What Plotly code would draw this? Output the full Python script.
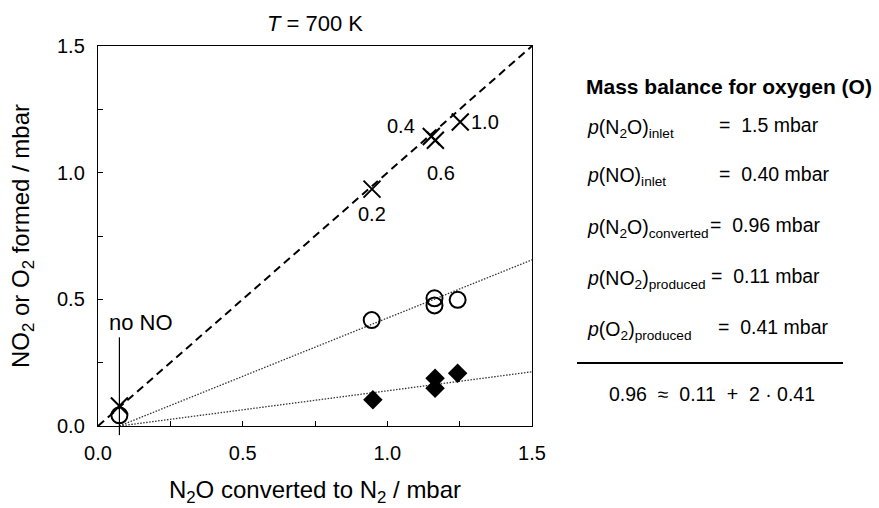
import plotly.graph_objects as go

# --- data -------------------------------------------------------------
# N2O converted to N2 (mbar) vs. product formed (mbar), T = 700 K
sum_x = [0.074, 0.947, 1.152, 1.166, 1.252]          # NO2 + 2*O2 (crosses)
sum_y = [0.079, 0.935, 1.143, 1.128, 1.200]
sum_labels = ["", "0.2", "0.4", "0.6", "1.0"]        # p(NO)inlet / mbar

o2_x = [0.074, 0.946, 1.163, 1.163, 1.243]           # O2 formed (open circles)
o2_y = [0.042, 0.418, 0.504, 0.476, 0.498]

no2_x = [0.950, 1.165, 1.165, 1.243]                  # NO2 formed (diamonds)
no2_y = [0.104, 0.188, 0.149, 0.208]

diag_x = [0.0, 1.5]                                   # 1:1 line
diag_y = [0.0, 1.5]
o2_fit_x = [0.074, 1.5]
o2_fit_y = [0.0, 0.656]
no2_fit_x = [0.074, 1.5]
no2_fit_y = [0.0, 0.214]

no_ref_x = 0.074                                      # "no NO" reference run
no_ref_y = [-0.036, 0.35]

balance_rows = [
    ("<i>p</i>(N<sub>2</sub>O)<sub>inlet</sub>", "=\u00a0 1.5 mbar"),
    ("<i>p</i>(NO)<sub>inlet</sub>", "=\u00a0 0.40 mbar"),
    ("<i>p</i>(N<sub>2</sub>O)<sub>converted</sub>", "=\u00a0 0.96 mbar"),
    ("<i>p</i>(NO<sub>2</sub>)<sub>produced</sub>", "=\u00a0 0.11 mbar"),
    ("<i>p</i>(O<sub>2</sub>)<sub>produced</sub>", "=\u00a0 0.41 mbar"),
]
balance_eq = "0.96\u00a0 \u2248\u00a0 0.11\u00a0 +\u00a0 2 \u00b7 0.41"

# --- layout geometry (pixels) ----------------------------------------
W, H = 879, 508
L, R, T, B = 98, 347, 46, 82
PW, PH = W - L - R, H - T - B
XMAX, YMAX = 1.5, 1.5
FONT = "Liberation Sans, Arial, Helvetica, sans-serif"
TICK_SIZE = 20
TITLE_SIZE = 24
BODY_SIZE = 19.5


def px(xp):
    return (xp - L) / PW


def py(yp):
    return (H - B - yp) / PH


fig = go.Figure()

fig.add_trace(go.Scatter(x=diag_x, y=diag_y, mode="lines",
                         line=dict(color="black", width=2, dash="8px,5px"),
                         hoverinfo="skip"))
fig.add_trace(go.Scatter(x=o2_fit_x, y=o2_fit_y, mode="lines",
                         line=dict(color="#333", width=1.3, dash="1.5px,1.5px"),
                         hoverinfo="skip"))
fig.add_trace(go.Scatter(x=no2_fit_x, y=no2_fit_y, mode="lines",
                         line=dict(color="#333", width=1.3, dash="1.5px,1.5px"),
                         hoverinfo="skip"))

fig.add_trace(go.Scatter(x=sum_x, y=sum_y, mode="markers", cliponaxis=False,
                         marker=dict(symbol="x-thin-open", size=17, color="black",
                                     line=dict(color="black", width=2))))
fig.add_trace(go.Scatter(x=o2_x, y=o2_y, mode="markers", cliponaxis=False,
                         marker=dict(symbol="circle-open", size=16, color="black",
                                     line=dict(color="black", width=2))))
fig.add_trace(go.Scatter(x=no2_x, y=no2_y, mode="markers", cliponaxis=False,
                         marker=dict(symbol="diamond", size=15, color="black",
                                     line=dict(width=0))))

# labels next to the crosses (NO inlet pressure)
label_shift = {"0.2": (0, -25), "0.4": (-30, 10), "0.6": (6, -33), "1.0": (25, 0)}
for xv, yv, lab in zip(sum_x, sum_y, sum_labels):
    if not lab:
        continue
    dx, dy = label_shift[lab]
    fig.add_annotation(x=xv, y=yv, text=lab, showarrow=False, xshift=dx, yshift=dy,
                       font=dict(size=TICK_SIZE, color="black", family=FONT))

# "no NO" marker line
fig.add_shape(type="line", xref="paper", yref="paper",
              x0=no_ref_x / XMAX, x1=no_ref_x / XMAX,
              y0=no_ref_y[0] / YMAX, y1=no_ref_y[1] / YMAX,
              line=dict(color="black", width=1.2))
fig.add_annotation(x=no_ref_x, y=no_ref_y[1], xref="x", yref="y", text="no NO",
                   showarrow=False, xanchor="left", yanchor="bottom",
                   xshift=-12, yshift=0,
                   font=dict(size=22, color="black", family=FONT))

# plot title
fig.add_annotation(x=0.5, y=1, xref="paper", yref="paper",
                   text="<i>T</i> = 700 K", showarrow=False,
                   xanchor="center", yanchor="bottom", yshift=8,
                   font=dict(size=22, color="black", family=FONT))

# oxygen mass balance panel
fig.add_annotation(x=px(584), y=py(86), xref="paper", yref="paper",
                   text="<b>Mass balance for oxygen (O)</b>", showarrow=False,
                   xanchor="left", yanchor="middle",
                   font=dict(size=21, color="black", family=FONT))
row_y = [128, 177, 228, 279, 330]
eq_x = [717, 717, 708, 709, 716]
for (lhs, rhs), yr, xr in zip(balance_rows, row_y, eq_x):
    fig.add_annotation(x=px(585), y=py(yr), xref="paper", yref="paper",
                       text=lhs, showarrow=False, xanchor="left", yanchor="middle",
                       font=dict(size=BODY_SIZE, color="black", family=FONT))
    fig.add_annotation(x=px(xr), y=py(yr - 3), xref="paper", yref="paper",
                       text=rhs, showarrow=False, xanchor="left", yanchor="middle",
                       font=dict(size=BODY_SIZE, color="black", family=FONT))
fig.add_shape(type="line", xref="paper", yref="paper",
              x0=px(577), x1=px(843), y0=py(363), y1=py(363),
              line=dict(color="black", width=2))
fig.add_annotation(x=px(712), y=py(394), xref="paper", yref="paper",
                   text=balance_eq, showarrow=False, xanchor="center", yanchor="middle",
                   font=dict(size=BODY_SIZE, color="black", family=FONT))

axis_common = dict(
    range=[0, 1.5], tick0=0, dtick=0.5, tickformat=".1f",
    ticks="inside", ticklen=5, tickwidth=1.2, tickcolor="black",
    minor=dict(dtick=0.25, ticks="inside", ticklen=5, tickwidth=1.2, tickcolor="black"),
    showline=True, linecolor="black", linewidth=1.4, mirror=True,
    showgrid=False, zeroline=False, automargin=False,
    tickfont=dict(size=TICK_SIZE, color="black", family=FONT),
)

fig.update_layout(
    width=W, height=H,
    margin=dict(l=L, r=R, t=T, b=B),
    paper_bgcolor="white", plot_bgcolor="white",
    showlegend=False,
    font=dict(family=FONT, color="black"),
    xaxis=dict(axis_common, ticklabelstandoff=9,
               title=dict(text="N<sub>2</sub>O converted to N<sub>2</sub> / mbar",
                          font=dict(size=TITLE_SIZE, color="black", family=FONT),
                          standoff=17)),
    yaxis=dict(axis_common, ticklabelstandoff=8,
               title=dict(text="NO<sub>2</sub> or O<sub>2</sub> formed / mbar",
                          font=dict(size=TITLE_SIZE, color="black", family=FONT),
                          standoff=20)),
)

fig.write_html("out.html")
